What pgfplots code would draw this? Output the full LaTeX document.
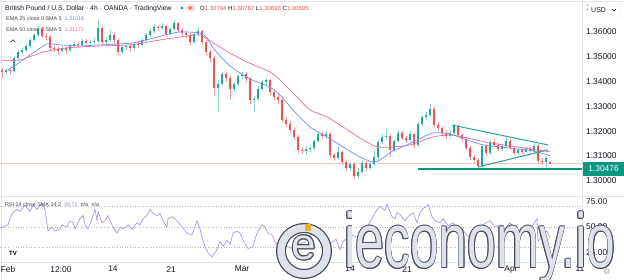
\documentclass[border=0pt]{standalone}
\usepackage{pgfplots}
\pgfplotsset{compat=1.18}
\usepackage{pgfplotstable}
\usepackage{fontspec}
\setmainfont{Liberation Sans}
\newfontfamily\djv{DejaVu Sans}
\definecolor{tvred}{HTML}{EF5350}
\definecolor{tvgreen}{HTML}{26A69A}
\definecolor{tvredw}{HTML}{F59B99}
\definecolor{tvgreenw}{HTML}{8ED3CC}
\definecolor{emablue}{HTML}{6F8FF5}
\definecolor{emapink}{HTML}{F06A93}
\definecolor{rsic}{HTML}{A68BDD}
\definecolor{txt}{HTML}{131722}
\definecolor{sep}{HTML}{E0E3EB}
\definecolor{lbl}{HTML}{089981}
\definecolor{wmdark}{RGB}{70,74,88}
\definecolor{wmsilver}{RGB}{222,226,234}
\definecolor{gold}{RGB}{232,180,40}

\pgfplotstableread{
i o h l c
0 1.3447 1.3455 1.3415 1.3439
1 1.3439 1.3455 1.3431 1.3447
2 1.3447 1.3455 1.3427 1.3443
3 1.3443 1.3503 1.3439 1.3495
4 1.3495 1.3528 1.3487 1.3519
5 1.3519 1.3540 1.3511 1.3528
6 1.3528 1.3552 1.3519 1.3544
7 1.3544 1.3576 1.3536 1.3568
8 1.3568 1.3596 1.3560 1.3588
9 1.3588 1.3624 1.3580 1.3612
10 1.3612 1.3620 1.3576 1.3584
11 1.3584 1.3596 1.3568 1.3580
12 1.3580 1.3588 1.3528 1.3536
13 1.3536 1.3548 1.3519 1.3532
14 1.3532 1.3540 1.3507 1.3524
15 1.3524 1.3544 1.3515 1.3536
16 1.3536 1.3544 1.3511 1.3528
17 1.3528 1.3552 1.3519 1.3544
18 1.3544 1.3560 1.3540 1.3552
19 1.3552 1.3560 1.3536 1.3548
20 1.3548 1.3572 1.3540 1.3564
21 1.3564 1.3572 1.3548 1.3556
22 1.3556 1.3568 1.3544 1.3560
23 1.3560 1.3576 1.3552 1.3564
24 1.3564 1.3648 1.3556 1.3616
25 1.3616 1.3624 1.3552 1.3560
26 1.3560 1.3580 1.3548 1.3568
27 1.3568 1.3608 1.3560 1.3588
28 1.3588 1.3596 1.3552 1.3568
29 1.3568 1.3576 1.3507 1.3519
30 1.3519 1.3548 1.3511 1.3540
31 1.3540 1.3556 1.3528 1.3544
32 1.3544 1.3552 1.3519 1.3536
33 1.3536 1.3560 1.3528 1.3552
34 1.3552 1.3564 1.3536 1.3548
35 1.3548 1.3576 1.3540 1.3568
36 1.3568 1.3596 1.3560 1.3588
37 1.3588 1.3616 1.3580 1.3604
38 1.3604 1.3632 1.3596 1.3620
39 1.3620 1.3628 1.3604 1.3616
40 1.3616 1.3636 1.3608 1.3624
41 1.3624 1.3628 1.3580 1.3592
42 1.3592 1.3620 1.3584 1.3612
43 1.3612 1.3648 1.3604 1.3636
44 1.3636 1.3640 1.3600 1.3608
45 1.3608 1.3616 1.3584 1.3596
46 1.3596 1.3604 1.3576 1.3588
47 1.3588 1.3596 1.3548 1.3560
48 1.3560 1.3600 1.3552 1.3592
49 1.3592 1.3620 1.3584 1.3604
50 1.3604 1.3608 1.3548 1.3560
51 1.3560 1.3568 1.3507 1.3519
52 1.3519 1.3528 1.3479 1.3495
53 1.3495 1.3503 1.3346 1.3374
54 1.3374 1.3407 1.3278 1.3390
55 1.3390 1.3439 1.3382 1.3431
56 1.3431 1.3439 1.3398 1.3415
57 1.3415 1.3423 1.3326 1.3370
58 1.3370 1.3398 1.3358 1.3390
59 1.3390 1.3431 1.3382 1.3423
60 1.3423 1.3439 1.3411 1.3431
61 1.3431 1.3439 1.3398 1.3411
62 1.3411 1.3419 1.3310 1.3326
63 1.3326 1.3342 1.3278 1.3330
64 1.3330 1.3382 1.3322 1.3370
65 1.3370 1.3407 1.3362 1.3398
66 1.3398 1.3415 1.3386 1.3407
67 1.3407 1.3411 1.3346 1.3358
68 1.3358 1.3366 1.3326 1.3338
69 1.3338 1.3350 1.3310 1.3326
70 1.3326 1.3334 1.3233 1.3245
71 1.3245 1.3258 1.3217 1.3229
72 1.3229 1.3241 1.3193 1.3205
73 1.3205 1.3217 1.3165 1.3177
74 1.3177 1.3185 1.3112 1.3125
75 1.3125 1.3137 1.3108 1.3121
76 1.3121 1.3141 1.3104 1.3129
77 1.3129 1.3145 1.3116 1.3133
78 1.3133 1.3169 1.3125 1.3161
79 1.3161 1.3201 1.3153 1.3189
80 1.3189 1.3197 1.3169 1.3181
81 1.3181 1.3201 1.3173 1.3189
82 1.3189 1.3197 1.3092 1.3104
83 1.3104 1.3112 1.3080 1.3092
84 1.3092 1.3141 1.3084 1.3116
85 1.3116 1.3125 1.3064 1.3076
86 1.3076 1.3084 1.3040 1.3052
87 1.3052 1.3076 1.3044 1.3068
88 1.3068 1.3076 1.3008 1.3020
89 1.3020 1.3052 1.3012 1.3036
90 1.3036 1.3084 1.3028 1.3072
91 1.3072 1.3080 1.3040 1.3052
92 1.3052 1.3076 1.3044 1.3068
93 1.3068 1.3125 1.3060 1.3096
94 1.3096 1.3165 1.3084 1.3157
95 1.3157 1.3189 1.3149 1.3177
96 1.3177 1.3213 1.3165 1.3181
97 1.3181 1.3189 1.3096 1.3125
98 1.3125 1.3169 1.3116 1.3161
99 1.3161 1.3205 1.3153 1.3193
100 1.3193 1.3201 1.3165 1.3173
101 1.3173 1.3181 1.3153 1.3165
102 1.3165 1.3201 1.3157 1.3189
103 1.3189 1.3193 1.3133 1.3145
104 1.3145 1.3237 1.3137 1.3229
105 1.3229 1.3266 1.3221 1.3258
106 1.3258 1.3278 1.3249 1.3266
107 1.3266 1.3310 1.3258 1.3290
108 1.3290 1.3298 1.3217 1.3225
109 1.3225 1.3237 1.3201 1.3213
110 1.3213 1.3221 1.3181 1.3193
111 1.3193 1.3205 1.3169 1.3181
112 1.3181 1.3205 1.3173 1.3193
113 1.3193 1.3229 1.3185 1.3221
114 1.3221 1.3229 1.3177 1.3185
115 1.3185 1.3193 1.3157 1.3169
116 1.3169 1.3177 1.3125 1.3133
117 1.3133 1.3141 1.3084 1.3096
118 1.3096 1.3104 1.3072 1.3084
119 1.3084 1.3092 1.3048 1.3060
120 1.3060 1.3149 1.3052 1.3141
121 1.3141 1.3149 1.3100 1.3112
122 1.3112 1.3165 1.3104 1.3157
123 1.3157 1.3169 1.3137 1.3145
124 1.3145 1.3153 1.3121 1.3129
125 1.3129 1.3149 1.3121 1.3141
126 1.3141 1.3177 1.3133 1.3161
127 1.3161 1.3169 1.3125 1.3133
128 1.3133 1.3141 1.3104 1.3112
129 1.3112 1.3133 1.3104 1.3125
130 1.3125 1.3133 1.3108 1.3116
131 1.3116 1.3137 1.3112 1.3129
132 1.3129 1.3137 1.3112 1.3121
133 1.3121 1.3157 1.3112 1.3141
134 1.3141 1.3149 1.3072 1.3080
135 1.3080 1.3092 1.3064 1.3076
136 1.3076 1.3100 1.3056 1.3092
137 1.30764 1.30787 1.30693 1.30695
}\candles

\pgfplotsset{
  wick/.style={draw=none, mark=none, forget plot, error bars/.cd, y dir=plus, y explicit, error mark=none, error bar style={line width=0.7pt, draw=#1}},
  body/.style={draw=none, mark=none, forget plot, error bars/.cd, y dir=plus, y explicit, error mark=none, error bar style={line width=2.7pt, draw=#1}},
}

\begin{document}
\begin{tikzpicture}[x=1pt,y=1pt]
\path[use as bounding box] (0pt,0pt) rectangle (624pt,280pt);
\fill[white] (0pt,0pt) rectangle (624pt,280pt);
% panel separators
\draw[sep, line width=0.8pt] (0,83.5) -- (624,83.5);
\draw[sep, line width=0.6pt] (0,18) -- (582.5,18);
\draw[sep, line width=0.6pt] (582.5,18) -- (582.5,280);
\draw[sep, line width=0.6pt] (0,279) -- (624,279);
\draw[sep, line width=0.8pt] (1.2,0) -- (1.2,280);

% ---------- price panel ----------
\begin{axis}[at={(0pt,84pt)}, anchor=south west, scale only axis,
  width=582pt, height=196pt,
  xmin=-0.5, xmax=145, ymin=1.29391, ymax=1.3729,
  axis line style={draw=none}, tick style={draw=none},
  xtick=\empty,
  ytick={1.30,1.31,1.32,1.33,1.34,1.35,1.36,1.37},
  yticklabels={1.30000,1.31000,1.32000,1.33000,1.34000,1.35000,1.36000,1.37000},
  yticklabel pos=right,
  yticklabel style={font=\fontsize{8.4}{10}\selectfont, text=txt, anchor=west, inner sep=0pt, xshift=4pt},
  clip=true]
% last price line
\addplot[red!22, line width=0.6pt, forget plot] coordinates {(-0.5,1.30695) (145,1.30695)};
% candles
\addplot[restrict expr to domain={\thisrow{c}-\thisrow{o}}{-1:0}, wick=tvredw] table[x=i, y=l, y error expr=\thisrow{h}-\thisrow{l}] {\candles};
\addplot[restrict expr to domain={\thisrow{c}-\thisrow{o}}{0:1}, wick=tvgreenw] table[x=i, y=l, y error expr=\thisrow{h}-\thisrow{l}] {\candles};
\addplot[restrict expr to domain={\thisrow{c}-\thisrow{o}}{-1:0}, body=tvred] table[x=i, y=c, y error expr={max(\thisrow{o}-\thisrow{c},0.00003)}] {\candles};
\addplot[restrict expr to domain={\thisrow{c}-\thisrow{o}}{0:1}, body=tvgreen] table[x=i, y=o, y error expr={max(\thisrow{c}-\thisrow{o},0.00003)}] {\candles};
% EMA 50
\addplot[emapink, line width=0.7pt, smooth, tension=0.4] coordinates {(0,1.3487)(4.5,1.3487)(10.25,1.3519)(16.25,1.3536)(24.5,1.3544)(32,1.3548)(39.5,1.3568)(44.5,1.3580)(49.5,1.3588)(52.75,1.3556)(57,1.3515)(61.25,1.3479)(67,1.3439)(69.5,1.3407)(73.25,1.3346)(77,1.3286)(81.25,1.3258)(85.25,1.3217)(89.5,1.3173)(93.75,1.3137)(97.75,1.3137)(102,1.3145)(107.75,1.3177)(112,1.3185)(116.25,1.3173)(122,1.3153)(128.75,1.3137)(137,1.31171)};
% EMA 25
\addplot[emablue, line width=0.7pt, smooth, tension=0.4] coordinates {(1.5,1.3447)(4.5,1.3479)(7.75,1.3515)(11.25,1.3552)(14.5,1.3548)(19.5,1.3544)(24.5,1.3548)(29.5,1.3552)(32.75,1.3556)(37,1.3572)(40.75,1.3588)(44.5,1.3600)(49.5,1.3596)(51.25,1.3576)(52.75,1.3536)(55,1.3495)(57,1.3463)(59.5,1.3435)(62,1.3411)(64.5,1.3394)(67,1.3378)(69.5,1.3346)(72.75,1.3286)(77,1.3217)(81.25,1.3177)(85.25,1.3137)(89.5,1.3096)(92.75,1.3076)(94.5,1.3084)(97.75,1.3121)(100.75,1.3141)(103.75,1.3165)(107.75,1.3193)(112,1.3189)(116.25,1.3165)(120.25,1.3145)(124.5,1.3137)(128.75,1.3129)(132.75,1.3121)(137,1.31018)};
% drawings: support line and triangle
\addplot[lbl, line width=1.2pt] coordinates {(104,1.30476) (145,1.30476)};
\addplot[tvgreen, line width=1pt] coordinates {(112.5,1.3225) (136.5,1.3145)};
\addplot[tvgreen, line width=1pt] coordinates {(119,1.3056) (136.5,1.3125)};
\end{axis}

% ---------- RSI panel ----------
\begin{axis}[at={(0pt,18pt)}, anchor=south west, scale only axis,
  width=582pt, height=65pt,
  xmin=-0.5, xmax=145, ymin=16, ymax=79,
  axis line style={draw=none}, tick style={draw=none},
  ytick={25,50,75}, yticklabels={25.00,50.00,75.00},
  yticklabel pos=right,
  yticklabel style={font=\fontsize{8.4}{10}\selectfont, text=txt, anchor=west, inner sep=0pt, xshift=4pt},
  xtick={1.5,14.75,27.75,42.25,60,72,87,101.25,127.25,144.5},
  xticklabels={Feb,12:00,14,21,Mar,7,14,21,Apr,11},
  xticklabel style={font=\fontsize{8.4}{10}\selectfont, text=txt, anchor=north, inner sep=0pt, yshift=-4pt},
  clip=true]
\addplot[gray!55, dotted, line width=0.6pt] coordinates {(-0.5,70)(145,70)};
\addplot[gray!55, dotted, line width=0.6pt] coordinates {(-0.5,50)(145,50)};
\addplot[gray!55, dotted, line width=0.6pt] coordinates {(-0.5,30)(145,30)};
\addplot[rsic, line width=0.6pt] coordinates {(-0.5,49)(1.5,52)(2.5,63)(3.75,67)(4.5,65)(5.75,71)(7,65)(7.75,71)(8.75,67)(10,73)(10.75,67)(11.5,46)(12.5,50)(13.25,46)(14.5,48)(15,52)(16.25,50)(17,56)(17.75,54)(18.25,48)(19.5,58)(20.25,61)(20.75,52)(21.5,48)(22.5,58)(23.25,67)(23.75,56)(24,65)(25,54)(25.75,56)(26.5,61)(27.5,52)(28.75,44)(29.5,50)(30.25,48)(31.5,52)(32.5,48)(33.75,54)(34.5,52)(35.25,58)(36.25,61)(37,67)(37.75,63)(38.75,61)(39.5,63)(40.25,56)(41.25,50)(41.5,58)(42.5,60)(43.75,56)(45,50)(46.25,44)(47.5,42)(48.75,56)(49.5,48)(50,40)(50.75,31)(51.5,25)(52.5,21)(53.75,28)(54.5,36)(55.25,31)(56.25,37)(57,33)(57.75,44)(58.75,46)(59.5,44)(60.25,37)(61.5,29)(62.75,31)(63.75,44)(65,52)(65.75,50)(66.5,44)(67.5,42)(68.25,36)(69.5,28)(70.75,32)(72,30)(73.25,27)(74.5,34)(75.75,35)(77,42)(77.75,49)(78.75,46)(80.25,44)(82,34)(83.5,38)(84.5,28)(85.25,36)(87.5,42)(88.75,40)(90,46)(91.25,50)(92.5,58)(93.25,64)(94.5,70)(95.75,66)(96.25,72)(97.5,60)(98.25,58)(98.75,64)(99.5,62)(100.75,56)(101.5,60)(102.75,64)(103.75,54)(104.5,64)(105.25,68)(106.25,70)(106.5,72)(107.5,60)(108.25,56)(109.5,54)(110.25,58)(111.5,51)(112.75,54)(113.75,46)(115,48)(116.25,42)(117.5,38)(118.25,36)(119,48)(120.25,52)(122,56)(123.25,50)(124.5,52)(125.75,48)(127,54)(128.75,46)(130,48)(131.25,46)(132.75,52)(133.75,58)(134,36)(134.75,40)(135.25,44)(136.25,46)(137,39.71)};
\end{axis}

% ---------- legends / header ----------
\node[anchor=base west, inner sep=0pt, font=\fontsize{6.8}{8}\selectfont, text=txt] at (5,269.5) {British Pound / U.S. Dollar · 4h · OANDA · TradingView};
\draw[sep, fill=white, rounded corners=3.5pt] (177.5,268) rectangle (195,276);
\fill[tvgreen] (182,272) circle (1.7pt);
\fill[tvred!25, rounded corners=1.5pt] (186.5,268.8) rectangle (194.2,275.2);
\fill[tvred] (190.3,272) circle (1.7pt);
\node[anchor=base west, inner sep=0pt, font=\fontsize{6}{7}\selectfont, text=txt] at (200,269.5) {O\textcolor{tvred}{1.30764} H\textcolor{tvred}{1.30787} L\textcolor{tvred}{1.30693} C\textcolor{tvred}{1.30695}};
\node[anchor=base west, inner sep=0pt, font=\fontsize{5.4}{6.5}\selectfont, text=txt!80] at (6,259) {EMA 25 close 0 SMA 5\hspace{3pt}\textcolor{emablue}{1.31018}};
\node[anchor=base west, inner sep=0pt, font=\fontsize{5.4}{6.5}\selectfont, text=txt!80] at (6,248) {EMA 50 close 0 SMA 5\hspace{3pt}\textcolor{emapink}{1.31171}};
\draw[sep, fill=white, rounded corners=1.5pt] (6,234) rectangle (20,244);
\draw[txt, line width=0.6pt] (10.5,237.8) -- (13,240.3) -- (15.5,237.8);
\node[anchor=base west, inner sep=0pt, font=\fontsize{5.4}{6.5}\selectfont, text=txt!80] at (5,73) {RSI 14 close SMA 14 2\hspace{3pt}\textcolor{rsic}{39.71}\hspace{3pt}n/a\hspace{2pt} n/a};
\fill[white] (13,27) circle (6.5pt);
\node[font=\fontsize{6}{7}\selectfont\bfseries, text=black, inner sep=0pt] at (13,27) {TV};

% right scale widgets
\draw[sep, fill=white, rounded corners=1.5pt] (588,263) rectangle (620,277);
\node[anchor=base west, inner sep=0pt, font=\fontsize{7}{8}\selectfont, text=txt] at (591,267) {USD};
\draw[txt, line width=0.5pt] (612,271) -- (614,269) -- (616,271);
\fill[lbl] (583,104) rectangle (624,118);
\node[font=\fontsize{8.4}{10}\selectfont, text=white, inner sep=0pt] at (603.5,111) {1.30476};
\node[font=\djv\fontsize{8}{9}\selectfont, text=gray!70, inner sep=0pt] at (607,8) {⚙};

% ---------- watermark ----------
\draw[wmdark, line width=10pt] (304,29) circle (23);
\draw[wmsilver, line width=7.5pt] (304,29) circle (23);
\fill[gold] (305,49) rectangle (311,56);
\foreach \a in {0,45,...,315} {
  \node[anchor=center, inner sep=0pt, font=\fontsize{44}{44}\selectfont, text=wmdark, shift={(\a:1pt)}] at (304,32) {e};
}
\node[anchor=center, inner sep=0pt, font=\fontsize{44}{44}\selectfont, text=wmsilver] at (304,32) {e};
\foreach \a in {0,45,...,315} {
  \node[anchor=base west, inner sep=0pt, font=\fontsize{77}{77}\selectfont, text=wmdark, xscale=0.67, shift={(\a:1pt)}] at (344,12) {ieconomy.io};
}
\node[anchor=base west, inner sep=0pt, font=\fontsize{77}{77}\selectfont, text=wmsilver, xscale=0.67] at (344,12) {ieconomy.io};
\end{tikzpicture}
\end{document}
